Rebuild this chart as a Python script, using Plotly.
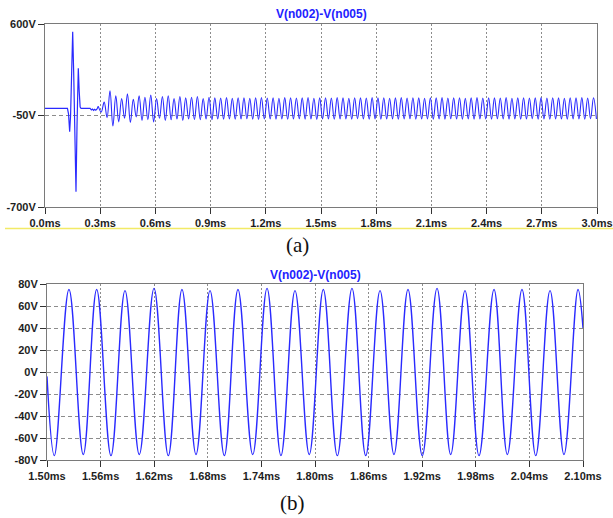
import plotly.graph_objects as go

# ---------------- data: panel (a) V(n002)-V(n005), 0..3 ms ----------------
# start-up transient (time ms, volts)
a_trans_t = [0.0, 0.122, 0.128, 0.134, 0.139, 0.144, 0.1505, 0.156, 0.162, 0.1685,
             0.174, 0.181, 0.186, 0.191, 0.196, 0.245, 0.252, 0.258, 0.264, 0.270,
             0.276, 0.282]
a_trans_v = [0, 0, -40, -165, -50, 150, 545, 250, -150, -591,
             -120, 285, 120, 10, 0, 0, -10, -4, -14, -6,
             -12, -5]

# oscillation peaks (time ms, volts)
a_peak_t = [0.2898, 0.3215, 0.3532, 0.3848, 0.4165, 0.4481, 0.4798, 0.5115, 0.5431, 0.5748,
            0.6064, 0.6381, 0.6698, 0.7014, 0.7331, 0.7647, 0.7964, 0.8281, 0.8597, 0.8914,
            0.9230, 0.9547, 0.9864, 1.0180, 1.0497, 1.0813, 1.1130, 1.1447, 1.1763, 1.2080,
            1.2396, 1.2713, 1.3030, 1.3346, 1.3663, 1.3979, 1.4296, 1.4613, 1.4929, 1.5246,
            1.5563, 1.5879, 1.6196, 1.6512, 1.6829, 1.7146, 1.7462, 1.7779, 1.8095, 1.8412,
            1.8729, 1.9045, 1.9362, 1.9678, 1.9995, 2.0312, 2.0628, 2.0945, 2.1261, 2.1578,
            2.1895, 2.2211, 2.2528, 2.2844, 2.3161, 2.3478, 2.3794, 2.4111, 2.4427, 2.4744,
            2.5061, 2.5377, 2.5694, 2.6010, 2.6327, 2.6644, 2.6960, 2.7277, 2.7593, 2.7910,
            2.8227, 2.8543, 2.8860, 2.9176, 2.9493, 2.9810]
a_peak_v = [15, 45, 125, 90, 70, 105, 65, 90, 80, 95,
            70, 85, 90, 70, 85, 75, 80, 85, 70, 80,
            75, 74, 77, 73, 76, 75, 72, 76, 78, 74,
            75, 73, 77, 76, 74, 75, 78, 73, 75, 76,
            74, 77, 75, 73, 76, 75, 74, 77, 75, 76,
            73, 75, 77, 74, 76, 75, 73, 76, 75, 77,
            74, 75, 76, 73, 75, 77, 74, 76, 75, 74,
            77, 73, 75, 76, 74, 75, 77, 74, 76, 75,
            73, 76, 75, 77, 74, 75]

# oscillation troughs (time ms, volts)
a_trough_t = [0.3056, 0.3373, 0.3690, 0.4006, 0.4323, 0.4639, 0.4956, 0.5273, 0.5589, 0.5906,
              0.6222, 0.6539, 0.6856, 0.7172, 0.7489, 0.7805, 0.8122, 0.8439, 0.8755, 0.9072,
              0.9388, 0.9705, 1.0022, 1.0338, 1.0655, 1.0971, 1.1288, 1.1605, 1.1921, 1.2238,
              1.2554, 1.2871, 1.3188, 1.3504, 1.3821, 1.4137, 1.4454, 1.4771, 1.5087, 1.5404,
              1.5721, 1.6037, 1.6354, 1.6670, 1.6987, 1.7304, 1.7620, 1.7937, 1.8253, 1.8570,
              1.8887, 1.9203, 1.9520, 1.9836, 2.0153, 2.0470, 2.0786, 2.1103, 2.1419, 2.1736,
              2.2053, 2.2369, 2.2686, 2.3002, 2.3319, 2.3636, 2.3952, 2.4269, 2.4585, 2.4902,
              2.5219, 2.5535, 2.5852, 2.6168, 2.6485, 2.6802, 2.7118, 2.7435, 2.7751, 2.8068,
              2.8385, 2.8701, 2.9018, 2.9334, 2.9651, 2.9968]
a_trough_v = [-25, -65, -125, -95, -70, -100, -60, -85, -80, -95,
              -70, -85, -80, -75, -85, -75, -80, -80, -75, -80,
              -75, -76, -74, -77, -75, -73, -76, -78, -75, -74,
              -76, -74, -77, -75, -73, -76, -75, -78, -74, -75,
              -77, -75, -74, -76, -73, -75, -77, -74, -76, -75,
              -74, -77, -75, -73, -76, -75, -74, -77, -75, -76,
              -73, -75, -77, -74, -76, -75, -74, -76, -73, -75,
              -77, -74, -76, -75, -73, -76, -75, -77, -74, -75,
              -76, -74, -75, -77, -73, -75]

a_xticks = [0.0, 0.3, 0.6, 0.9, 1.2, 1.5, 1.8, 2.1, 2.4, 2.7, 3.0]
a_xlabels = ["0.0ms", "0.3ms", "0.6ms", "0.9ms", "1.2ms", "1.5ms", "1.8ms", "2.1ms", "2.4ms", "2.7ms", "3.0ms"]
a_yticks = [600, -50, -700]
a_ylabels = ["600V", "-50V", "-700V"]

# ---------------- data: panel (b) zoom 1.50..2.10 ms ----------------
b_ends_t = [1.5000, 2.1000]
b_ends_v = [-4, 40]
b_peak_t = [1.5246, 1.5556, 1.5873, 1.6198, 1.6511, 1.6825, 1.7138, 1.7463, 1.7776, 1.8093,
            1.8414, 1.8728, 1.9041, 1.9366, 1.9679, 2.0004, 2.0317, 2.0631, 2.0944]
b_peak_v = [75, 75, 74, 76, 75, 74, 75, 76, 74, 75, 76, 74, 75, 76, 74, 75, 75, 74, 75]
b_trough_t = [1.5082, 1.5406, 1.5716, 1.6033, 1.6358, 1.6668, 1.6985, 1.7303, 1.7619, 1.7936,
              1.8250, 1.8568, 1.8884, 1.9201, 1.9519, 1.9836, 2.0153, 2.0471, 2.0787]
b_trough_v = [-76, -75, -76, -75, -76, -75, -76, -75, -76, -75, -76, -76, -75, -76, -75, -76, -75, -76, -75]

b_xticks = [1.50, 1.56, 1.62, 1.68, 1.74, 1.80, 1.86, 1.92, 1.98, 2.04, 2.10]
b_xlabels = ["1.50ms", "1.56ms", "1.62ms", "1.68ms", "1.74ms", "1.80ms", "1.86ms", "1.92ms", "1.98ms", "2.04ms", "2.10ms"]
b_yticks = [80, 60, 40, 20, 0, -20, -40, -60, -80]
b_ylabels = ["80V", "60V", "40V", "20V", "0V", "-20V", "-40V", "-60V", "-80V"]

title_text = "V(n002)-V(n005)"

# ---------------- build ----------------
W, H = 613, 518
def fx(p): return p / W
def fy(p): return 1 - p / H

a_trans = list(zip(a_trans_t, a_trans_v))
a_osc = sorted(list(zip(a_peak_t, a_peak_v)) + list(zip(a_trough_t, a_trough_v)))
a_trans = a_trans + a_osc[:1]
b_pts = sorted(list(zip(b_ends_t, b_ends_v)) + list(zip(b_peak_t, b_peak_v)) + list(zip(b_trough_t, b_trough_v)))

LINE = "#2a2aff"
fig = go.Figure()
fig.add_trace(go.Scatter(x=[p[0] for p in a_trans], y=[p[1] for p in a_trans], mode="lines",
                         line=dict(color=LINE, width=1.2), xaxis="x", yaxis="y", showlegend=False,
                         hoverinfo="skip"))
fig.add_trace(go.Scatter(x=[p[0] for p in a_osc], y=[p[1] for p in a_osc], mode="lines",
                         line=dict(color=LINE, width=1.1, shape="spline", smoothing=1.1),
                         xaxis="x", yaxis="y", showlegend=False, hoverinfo="skip"))
fig.add_trace(go.Scatter(x=[p[0] for p in b_pts], y=[p[1] for p in b_pts], mode="lines",
                         line=dict(color=LINE, width=1.4, shape="spline", smoothing=1.1),
                         xaxis="x2", yaxis="y2", showlegend=False, hoverinfo="skip"))

tickfont = dict(family="Liberation Sans, Arial, sans-serif", size=11, color="#1e1e1e", weight="bold")
frame = dict(showline=True, mirror=True, linecolor="#7a7a7a", linewidth=1,
             ticks="outside", ticklen=6, tickcolor="#333333", tickwidth=1, automargin=False,
             tickfont=tickfont, zeroline=False, gridcolor="#8c8c8c", gridwidth=1, fixedrange=True)

fig.update_layout(
    template="none",
    width=W, height=H, margin=dict(l=0, r=0, t=0, b=0, pad=0),
    paper_bgcolor="white", plot_bgcolor="white",
    xaxis=dict(domain=[fx(45), fx(597)], range=[0, 3], anchor="y",
               tickmode="array", tickvals=a_xticks, ticktext=a_xlabels,
               showgrid=True, griddash="2px,2px", **frame),
    yaxis=dict(domain=[fy(207), fy(24)], range=[-700, 600], anchor="x",
               tickmode="array", tickvals=a_yticks, ticktext=a_ylabels,
               showgrid=True, griddash="4px,3px", **frame),
    xaxis2=dict(domain=[fx(47), fx(583)], range=[1.5, 2.1], anchor="y2",
                tickmode="array", tickvals=b_xticks, ticktext=b_xlabels,
                showgrid=True, griddash="2px,2px", **frame),
    yaxis2=dict(domain=[fy(460), fy(284)], range=[-80, 80], anchor="x2",
                tickmode="array", tickvals=b_yticks, ticktext=b_ylabels,
                showgrid=True, griddash="4px,3px", **frame),
)

titlefont = dict(family="Liberation Sans, Arial, sans-serif", size=12, color="#2222ff", weight="bold")
capfont = dict(family="Liberation Serif, Times New Roman, serif", size=21, color="#111111")
fig.add_annotation(text=title_text, x=fx(321), y=fy(14), xref="paper", yref="paper",
                   showarrow=False, font=titlefont, xanchor="center", yanchor="middle")
fig.add_annotation(text=title_text, x=fx(315), y=fy(275), xref="paper", yref="paper",
                   showarrow=False, font=titlefont, xanchor="center", yanchor="middle")
fig.add_annotation(text="(a)", x=fx(297), y=fy(245), xref="paper", yref="paper",
                   showarrow=False, font=capfont, xanchor="center", yanchor="middle")
fig.add_annotation(text="(b)", x=fx(292), y=fy(503), xref="paper", yref="paper",
                   showarrow=False, font=capfont, xanchor="center", yanchor="middle")
fig.add_shape(type="line", xref="paper", yref="paper", x0=fx(5), x1=1.0, y0=fy(228.5), y1=fy(228.5),
              line=dict(color="#f2ea66", width=1.5))

fig.write_html("out.html",
               config={"displayModeBar": False, "staticPlot": True},
               post_script="document.body.style.margin='0';document.body.style.padding='0';"
                           "document.body.style.overflow='hidden';")
